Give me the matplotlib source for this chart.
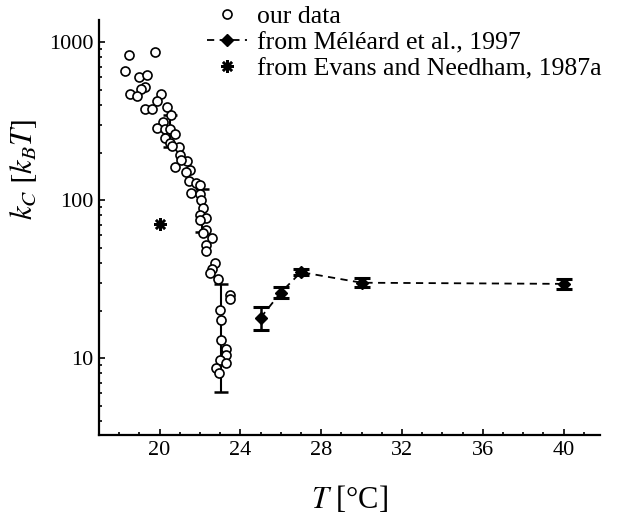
import matplotlib
matplotlib.use("Agg")
import matplotlib.pyplot as plt
from matplotlib.ticker import LogLocator, MultipleLocator, NullFormatter, FixedLocator

plt.rcParams['font.family'] = ['Liberation Serif', 'DejaVu Serif']
plt.rcParams['mathtext.fontset'] = 'stix'

# =========================
# our data (open circles)
# =========================
our_T = [18.51, 19.79, 18.31, 18.97, 19.39, 19.26, 19.09, 18.55, 18.87, 20.05,
         19.87, 19.29, 19.64, 20.38, 20.55, 20.16, 19.87, 20.25, 20.50, 20.79,
         20.25, 20.50, 20.96, 20.63, 20.99, 21.35, 21.08, 20.79, 21.52, 21.29,
         21.45, 21.82, 21.99, 21.57, 21.99, 22.07, 22.15, 21.99, 22.32, 21.99,
         22.32, 22.15, 22.62, 22.32, 22.32, 22.73, 22.62, 22.52, 22.89, 23.47,
         23.47, 22.98, 23.06, 23.06, 23.31, 23.28, 22.98, 23.28, 22.78, 22.94]
our_k = [827, 861, 658, 603, 618, 521, 504, 469, 457, 473,
         425, 375, 375, 386, 345, 313, 287, 284, 280, 264,
         249, 231, 216, 220, 193, 177, 179, 162, 155, 151,
         132, 128, 124, 111, 110, 100, 88.6, 80.4, 76.9, 74.7,
         64.6, 61.5, 57.3, 51.9, 47.6, 40.1, 36.4, 34.4, 31.5, 25.0,
         23.5, 20.1, 17.4, 13.0, 11.5, 10.4, 9.7, 9.33, 8.6, 8.07]

# error bars on our data
our_err_T = [20.54, 22.12, 23.06]
our_err_k = [270, 86, 13]
our_err_lo = [216, 63, 6.1]
our_err_hi = [345, 117, 29.4]

# =========================
# Meleard et al., 1997
# =========================
mel_T = [25, 26, 27, 30, 40]
mel_k = [18.0, 26.0, 35.0, 30.0, 29.5]
mel_err = [3.0, 2.0, 1.5, 2.0, 2.0]

# =========================
# Evans and Needham, 1987a
# =========================
ev_T = [20.0]
ev_k = [70.5]

fig = plt.figure(figsize=(6.18, 5.14), dpi=100)
ax = fig.add_axes([0.160, 0.1537, 0.811, 0.807])

h1, = ax.plot(our_T, our_k, 'o', mfc='white', mec='black', ms=6.5, mew=1.2,
              linestyle='none', label='our data', zorder=3)

yerr_our = [[k - lo for k, lo in zip(our_err_k, our_err_lo)],
            [hi - k for k, hi in zip(our_err_k, our_err_hi)]]
ax.errorbar(our_err_T, our_err_k, yerr=yerr_our, fmt='none', ecolor='black',
            elinewidth=1.5, capsize=5, capthick=1.8, zorder=2)

ax.errorbar(mel_T, mel_k, yerr=mel_err, fmt='none', ecolor='black',
            elinewidth=1.8, capsize=6, capthick=2.2, zorder=2)
h2, = ax.plot(mel_T, mel_k, linestyle=(0, (4, 3)), color='black', lw=1.3,
              marker='D', ms=6, mfc='black', mec='black',
              label='from Méléard et al., 1997')

h3, = ax.plot(ev_T, ev_k, linestyle='none', marker=(8, 2, 0), ms=9,
              mew=1.8, color='black', label='from Evans and Needham, 1987a')

ax.set_yscale('log')
ax.set_xlim(17, 41.8)
ax.set_ylim(3.26, 1377)

ax.xaxis.set_major_locator(FixedLocator([20, 24, 28, 32, 36, 40]))
ax.xaxis.set_minor_locator(MultipleLocator(1))
ax.yaxis.set_major_locator(LogLocator(base=10, numticks=10))
ax.yaxis.set_minor_locator(LogLocator(base=10, subs=range(2, 10), numticks=20))
ax.yaxis.set_minor_formatter(NullFormatter())
ax.yaxis.set_major_formatter(plt.FuncFormatter(lambda v, p: f'{v:g}'))

ax.tick_params(which='both', direction='in', width=1.2, labelsize=16)
ax.tick_params(which='major', length=4)
ax.tick_params(which='minor', length=2.5)
ax.tick_params(axis='x', pad=4)
ax.tick_params(axis='y', pad=4)

for s in ['top', 'right']:
    ax.spines[s].set_visible(False)
for s in ['left', 'bottom']:
    ax.spines[s].set_linewidth(1.6)

ax.set_xlabel(r'$T$ [°C]', fontsize=22)
ax.xaxis.set_label_coords(0.5, -0.118)
ax.set_ylabel(r'$k_C\ [k_B T]$', fontsize=22)
ax.yaxis.set_label_coords(-0.12, 0.64)

fig.legend(handles=[h1, h2, h3], loc='upper left',
           bbox_to_anchor=(207 / 618, 1 - 5 / 514), frameon=False,
           fontsize=18.5, handlelength=1.55, handletextpad=0.4,
           borderpad=0, labelspacing=0.12, borderaxespad=0)

fig.savefig('out.png', dpi=100)
